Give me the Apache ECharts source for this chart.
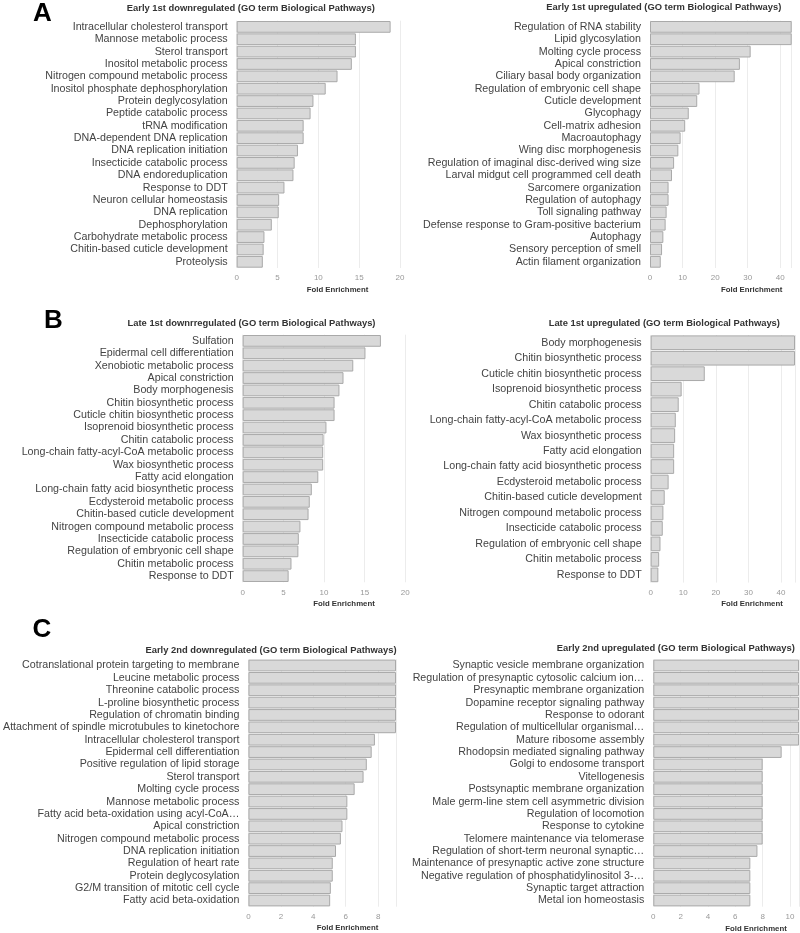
<!DOCTYPE html>
<html>
<head>
<meta charset="utf-8">
<script src="https://cdn.jsdelivr.net/npm/echarts@6/dist/echarts.min.js"></script>
<style>
html,body{margin:0;padding:0;background:#fff;}
#chart{width:800px;height:933px;}
</style>
</head>
<body>
<div id="chart"></div>
<script>
// ---- Data ----
const aDownCats = ["Intracellular cholesterol transport","Mannose metabolic process","Sterol transport","Inositol metabolic process","Nitrogen compound metabolic process","Inositol phosphate dephosphorylation","Protein deglycosylation","Peptide catabolic process","tRNA modification","DNA-dependent DNA replication","DNA replication initiation","Insecticide catabolic process","DNA endoreduplication","Response to DDT","Neuron cellular homeostasis","DNA replication","Dephosphorylation","Carbohydrate metabolic process","Chitin-based cuticle development","Proteolysis"];
const aDownVals = [18.85,14.6,14.6,14.1,12.35,10.9,9.4,9.05,8.2,8.2,7.5,7.1,6.95,5.85,5.2,5.15,4.3,3.4,3.3,3.2];

const aUpCats = ["Regulation of RNA stability","Lipid glycosylation","Molting cycle process","Apical constriction","Ciliary basal body organization","Regulation of embryonic cell shape","Cuticle development","Glycophagy","Cell-matrix adhesion","Macroautophagy","Wing disc morphogenesis","Regulation of imaginal disc-derived wing size","Larval midgut cell programmed cell death","Sarcomere organization","Regulation of autophagy","Toll signaling pathway","Defense response to Gram-positive bacterium","Autophagy","Sensory perception of smell","Actin filament organization"];
const aUpVals = [43.5,43.5,30.9,27.6,26.0,15.2,14.5,11.9,10.8,9.4,8.7,7.4,6.75,5.7,5.7,5.1,4.8,4.1,3.7,3.3];

const bDownCats = ["Sulfation","Epidermal cell differentiation","Xenobiotic metabolic process","Apical constriction","Body morphogenesis","Chitin biosynthetic process","Cuticle chitin biosynthetic process","Isoprenoid biosynthetic process","Chitin catabolic process","Long-chain fatty-acyl-CoA metabolic process","Wax biosynthetic process","Fatty acid elongation","Long-chain fatty acid biosynthetic process","Ecdysteroid metabolic process","Chitin-based cuticle development","Nitrogen compound metabolic process","Insecticide catabolic process","Regulation of embryonic cell shape","Chitin metabolic process","Response to DDT"];
const bDownVals = [17.0,15.1,13.6,12.4,11.9,11.3,11.3,10.3,9.95,9.9,9.9,9.3,8.5,8.25,8.1,7.1,6.9,6.85,6.0,5.65];

const bUpCats = ["Body morphogenesis","Chitin biosynthetic process","Cuticle chitin biosynthetic process","Isoprenoid biosynthetic process","Chitin catabolic process","Long-chain fatty-acyl-CoA metabolic process","Wax biosynthetic process","Fatty acid elongation","Long-chain fatty acid biosynthetic process","Ecdysteroid metabolic process","Chitin-based cuticle development","Nitrogen compound metabolic process","Insecticide catabolic process","Regulation of embryonic cell shape","Chitin metabolic process","Response to DDT"];
const bUpVals = [44.3,44.3,16.6,9.5,8.6,7.7,7.5,7.2,7.2,5.5,4.3,3.9,3.7,3.0,2.6,2.35];

const cDownCats = ["Cotranslational protein targeting to membrane","Leucine metabolic process","Threonine catabolic process","L-proline biosynthetic process","Regulation of chromatin binding","Attachment of spindle microtubules to kinetochore","Intracellular cholesterol transport","Epidermal cell differentiation","Positive regulation of lipid storage","Sterol transport","Molting cycle process","Mannose metabolic process","Fatty acid beta-oxidation using acyl-CoA…","Apical constriction","Nitrogen compound metabolic process","DNA replication initiation","Regulation of heart rate","Protein deglycosylation","G2/M transition of mitotic cell cycle","Fatty acid beta-oxidation"];
const cDownVals = [9.1,9.1,9.1,9.1,9.1,9.1,7.8,7.6,7.3,7.1,6.55,6.1,6.1,5.8,5.7,5.4,5.2,5.2,5.08,5.04];

const cUpCats = ["Synaptic vesicle membrane organization","Regulation of presynaptic cytosolic calcium ion…","Presynaptic membrane organization","Dopamine receptor signaling pathway","Response to odorant","Regulation of multicellular organismal…","Mature ribosome assembly","Rhodopsin mediated signaling pathway","Golgi to endosome transport","Vitellogenesis","Postsynaptic membrane organization","Male germ-line stem cell asymmetric division","Regulation of locomotion","Response to cytokine","Telomere maintenance via telomerase","Regulation of short-term neuronal synaptic…","Maintenance of presynaptic active zone structure","Negative regulation of phosphatidylinositol 3-…","Synaptic target attraction","Metal ion homeostasis"];
const cUpVals = [10.66,10.66,10.66,10.66,10.66,10.66,10.66,9.39,8.0,8.0,8.0,8.0,8.0,8.0,8.0,7.62,7.1,7.1,7.1,7.1];

const panelTitles = ["Early 1st downregulated (GO term Biological Pathways)","Early 1st upregulated (GO term Biological Pathways)","Late 1st downrregulated (GO term Biological Pathways)","Late 1st upregulated (GO term Biological Pathways)","Early 2nd downregulated (GO term Biological Pathways)","Early 2nd upregulated (GO term Biological Pathways)"];
const panelLetters = ["A","B","C"];
const axisName = "Fold Enrichment";

// ---- Layout ----
const FONT = "'Liberation Sans', Arial, Helvetica, sans-serif";
const panels = [
  {cats:aDownCats, vals:aDownVals, left:236.7, top:20.7, width:163.3, height:247.3, max:20, interval:5, showMax:true, titleX:250.8, titleY:8, nameX:337.5, nameY:290},
  {cats:aUpCats, vals:aUpVals, left:650, top:20.7, width:141.7, height:247.3, max:43.5, interval:10, showMax:false, titleX:663.8, titleY:7.5, nameX:751.7, nameY:290},
  {cats:bDownCats, vals:bDownVals, left:242.7, top:334.7, width:162.6, height:247.6, max:20, interval:5, showMax:true, titleX:251.5, titleY:323.5, nameX:344, nameY:604},
  {cats:bUpCats, vals:bUpVals, left:650.7, top:335, width:144.3, height:247.6, max:44.3, interval:10, showMax:false, titleX:664.3, titleY:323.7, nameX:752, nameY:604},
  {cats:cDownCats, vals:cDownVals, left:246.7, top:659.3, width:149.3, height:247.4, max:9.1, interval:2, showMax:false, titleX:271, titleY:650, nameX:347.5, nameY:928},
  {cats:cUpCats, vals:cUpVals, left:653.3, top:659.3, width:145.7, height:247.4, max:10.66, interval:2, showMax:false, titleX:675.8, titleY:648.5, nameX:756, nameY:929}
];
const letterPos = [[42.5,13.5],[53.5,321],[42,629.5]];

const grids=[], xAxes=[], yAxes=[], series=[], graphics=[];
panels.forEach((p,i)=>{
  grids.push({left:p.left, top:p.top, width:p.width, height:p.height, containLabel:false});
  xAxes.push({
    type:'value', gridIndex:i, min:0, max:p.max, interval:p.interval,
    axisLine:{show:false}, axisTick:{show:false},
    splitLine:{show:true, lineStyle:{color:'#ececec', width:1}},
    axisLabel:{color:'#999', fontSize:8, fontFamily:FONT, margin:6, showMaxLabel:p.showMax, showMinLabel:true}
  });
  yAxes.push({
    type:'category', gridIndex:i, data:p.cats, inverse:true,
    axisLine:{show:false}, axisTick:{show:false}, splitLine:{show:false},
    axisLabel:{color:'#444', fontSize:10.7, fontFamily:FONT, margin:9, interval:0}
  });
  series.push({
    type:'bar', xAxisIndex:i, yAxisIndex:i, data:p.vals,
    barCategoryGap:'5%', silent:true, animation:false,
    itemStyle:{color:'#d9d9d9', borderColor:'#a9a9a9', borderWidth:1}
  });
  graphics.push({type:'text', x:p.titleX, y:p.titleY, silent:true,
    style:{text:panelTitles[i], fill:'#333', font:'bold 9.4px '+FONT, textAlign:'center', textVerticalAlign:'middle'}});
  graphics.push({type:'text', x:p.nameX, y:p.nameY, silent:true,
    style:{text:axisName, fill:'#333', font:'bold 7.8px '+FONT, textAlign:'center', textVerticalAlign:'middle'}});
});
panelLetters.forEach((L,k)=>{
  graphics.push({type:'text', x:letterPos[k][0], y:letterPos[k][1], silent:true,
    style:{text:L, fill:'#000', font:'bold 26px '+FONT, textAlign:'center', textVerticalAlign:'middle'}});
});

const chart = echarts.init(document.getElementById('chart'), null, {renderer:'canvas'});
chart.setOption({
  backgroundColor:'#fff',
  animation:false,
  grid:grids, xAxis:xAxes, yAxis:yAxes, series:series, graphic:graphics
});
</script>
</body>
</html>
